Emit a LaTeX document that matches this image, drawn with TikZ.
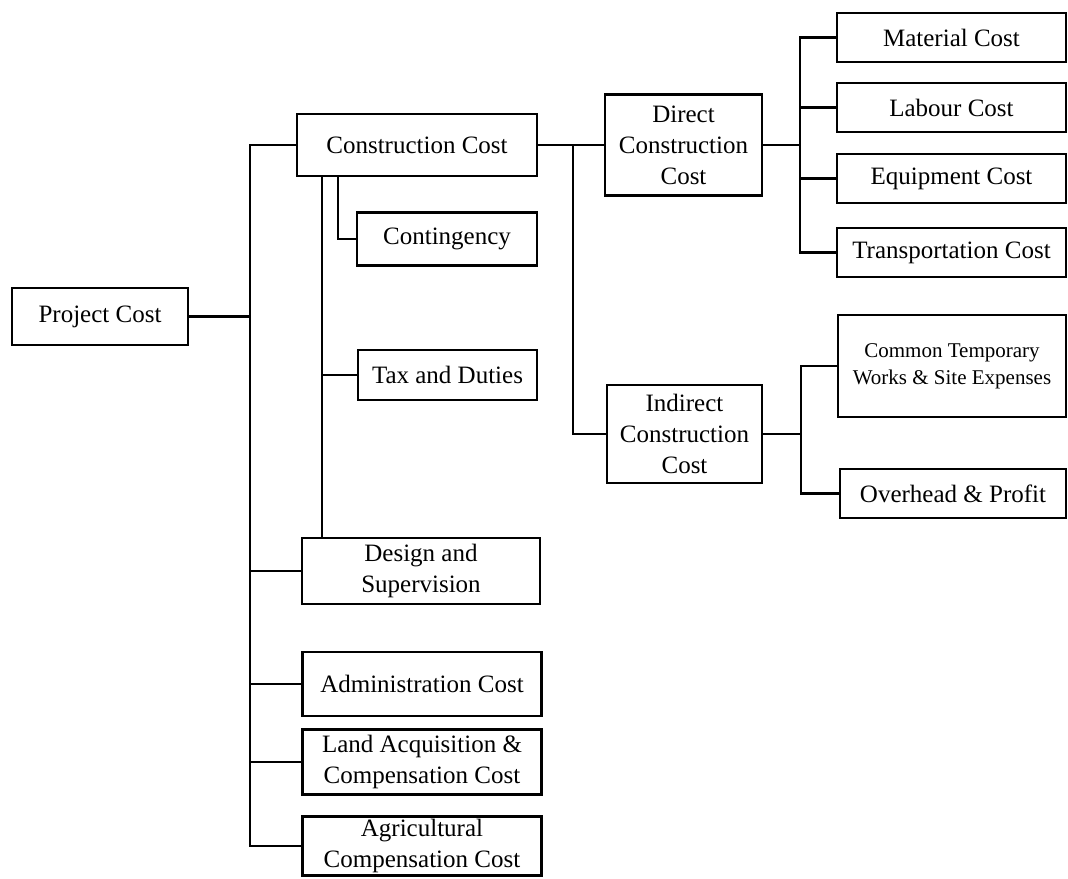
\documentclass[tikz,border=0pt]{standalone}
\usepackage{fontspec}
\setmainfont{Liberation Serif}
\begin{document}
\begin{tikzpicture}[x=1pt,y=-1pt,
  box/.style={draw, line width=2.1pt, inner sep=0pt, align=center,
    font=\fontsize{25}{31}\selectfont},
  link/.style={line width=2.1pt}]
\useasboundingbox (0,0) rectangle (1068,878);
% nodes
\node[box, minimum width=176, minimum height=57] (proj) at (100,316.5) {Project Cost};
\node[box, minimum width=240, minimum height=62] (cons) at (417,145) {Construction Cost};
\node[box, minimum width=180, minimum height=53] (cont) at (447,239) {Contingency};
\node[box, minimum width=179, minimum height=50] (tax) at (447.5,375) {Tax and Duties};
\node[box, minimum width=238, minimum height=66] (design) at (421,571) {Design and\\Supervision};
\node[box, minimum width=239, minimum height=64] (admin) at (422,684) {Administration Cost};
\node[box, minimum width=239, minimum height=65] (land) at (422,762) {Land Acquisition \&\\Compensation Cost};
\node[box, minimum width=239, minimum height=59] (agri) at (422,846) {Agricultural\\Compensation Cost};
\node[box, minimum width=157, minimum height=101] (direct) at (683.5,145) {Direct\\Construction\\Cost};
\node[box, minimum width=155, minimum height=98] (indirect) at (684.5,434) {Indirect\\Construction\\Cost};
\node[box, minimum width=229, minimum height=49] (material) at (951.5,37.5) {Material Cost};
\node[box, minimum width=229, minimum height=49] (labour) at (951.5,107.5) {Labour Cost};
\node[box, minimum width=229, minimum height=49] (equip) at (951.5,178.5) {Equipment Cost};
\node[box, minimum width=229, minimum height=49] (transp) at (951.5,252.5) {Transportation Cost};
\node[box, minimum width=228, minimum height=102, font=\fontsize{21}{27}\selectfont] (common) at (952,366) {Common Temporary\\Works \& Site Expenses};
\node[box, minimum width=226, minimum height=49] (overhead) at (953,493.5) {Overhead \& Profit};
% bus coordinates
\coordinate (b0) at (250,0);
\coordinate (b1) at (322,0);
\coordinate (b2) at (338,0);
\coordinate (b3) at (573,0);
\coordinate (b4) at (800,0);
\coordinate (b5) at (801,0);
% main bus
\draw[link] (cons.west) -| (b0 |- agri.west) -- (agri.west);
\draw[link] (proj.east) -- (proj.east -| b0);
\draw[link] (design.west) -- (design.west -| b0);
\draw[link] (admin.west) -- (admin.west -| b0);
\draw[link] (land.west) -- (land.west -| b0);
% under construction cost
\draw[link] (cons.south -| b1) -- (design.north -| b1);
\draw[link] (tax.west) -- (tax.west -| b1);
\draw[link] (cons.south -| b2) |- (cont.west);
% direct / indirect
\draw[link] (cons.east) -- (direct.west);
\draw[link] (cons.east -| b3) |- (indirect.west);
\draw[link] (direct.east) -- (direct.east -| b4);
\draw[link] (material.west) -| (b4 |- transp.west) -- (transp.west);
\draw[link] (labour.west) -- (labour.west -| b4);
\draw[link] (equip.west) -- (equip.west -| b4);
\draw[link] (indirect.east) -- (indirect.east -| b5);
\draw[link] (common.west) -| (b5 |- overhead.west) -- (overhead.west);
\end{tikzpicture}
\end{document}
